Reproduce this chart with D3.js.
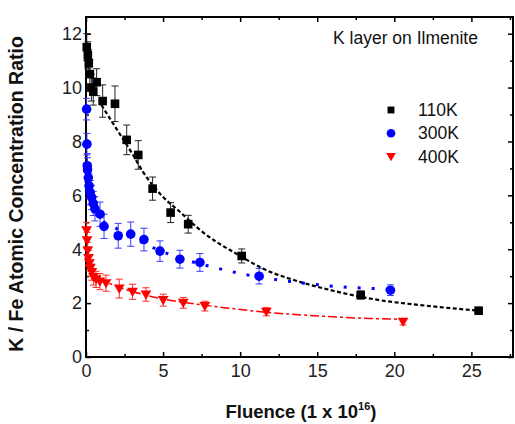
<!DOCTYPE html>
<html><head><meta charset="utf-8">
<script src="https://cdn.jsdelivr.net/npm/d3@7"></script>
<style>
body{margin:0;background:#fff;}
text{font-family:"Liberation Sans",Arial,sans-serif;}
</style></head>
<body><svg id="c" width="515" height="424"></svg>
<script>
// ---- data ----
const xTicks = [0,5,10,15,20,25];
const xMinorTicks = [2.5,7.5,12.5,17.5,22.5,27.5];
const yTicks = [0,2,4,6,8,10,12];
const yMinorTicks = [1,3,5,7,9,11];
const seriesNames = ["110K","300K","400K"];

const x110 = [0.05,0.12,0.18,0.25,0.35,0.47,0.69,1.08,1.88,2.64,3.39,4.32,5.49,6.63,10.10,17.82,25.47];
const y110 = [11.5,11.2,10.9,10.5,10.0,9.85,10.2,9.5,9.4,8.06,7.5,6.25,5.36,4.93,3.75,2.3,1.72];
const e110 = [0.5,0.5,0.5,0.55,0.5,0.5,0.5,0.6,0.66,0.55,0.53,0.43,0.37,0.33,0.26,0.15,0.05];

const x300 = [0.04,0.06,0.08,0.10,0.15,0.20,0.27,0.37,0.47,0.58,0.91,1.17,2.09,2.90,3.76,4.80,6.09,7.39,11.23,19.75];
const y300 = [9.2,7.9,7.1,6.95,6.65,6.35,6.1,5.92,5.7,5.5,5.3,4.85,4.5,4.56,4.36,3.93,3.63,3.51,3.0,2.48];
const e300 = [0.4,0.4,0.45,0.45,0.45,0.45,0.45,0.45,0.45,0.45,0.45,0.45,0.46,0.45,0.42,0.38,0.33,0.33,0.29,0.2];

const x400 = [0.04,0.07,0.11,0.16,0.22,0.28,0.37,0.48,0.65,0.9,1.3,2.16,3.02,3.89,5.01,6.31,7.71,11.7,20.57];
const y400 = [4.7,4.33,3.96,3.67,3.48,3.3,3.15,2.97,2.88,2.8,2.74,2.54,2.42,2.32,2.11,2.01,1.89,1.68,1.31];
const e400 = [0.3,0.3,0.3,0.3,0.3,0.3,0.3,0.3,0.3,0.3,0.3,0.35,0.28,0.25,0.22,0.2,0.18,0.15,0.12];

const fit110X = [1.0,2.0,3.0,3.71,4.9,6.09,7.39,8.47,9.55,11.71,13.87,16.03,18.62,22.3,25.5];
const fit110Y = [9.35,8.45,7.55,6.86,6.0,5.39,4.72,4.27,3.9,3.22,2.79,2.46,2.15,1.89,1.72];
const fit300X = [0.3,0.6,1.0,1.88,3.0,4.0,5.55,6.56,8.36,9.29,10.24,12.1,13.87,15.77,17.6,19.5];
const fit300Y = [5.95,5.45,5.1,4.8,4.45,4.15,3.78,3.59,3.32,3.19,3.07,2.89,2.76,2.64,2.57,2.52];
const fit400X = [0.2,0.5,1.0,2.0,3.0,4.0,5.0,6.3,7.7,8.7,11.7,15.2,18.4,20.6];
const fit400Y = [3.5,3.15,2.9,2.62,2.43,2.28,2.15,2.03,1.92,1.85,1.66,1.52,1.43,1.40];

// ---- layout ----
const L=86, T=17, R=513, B=357;
const svg = d3.select("#c");
const x = d3.scaleLinear().domain([0,27.7]).range([L,R]);
const y = d3.scaleLinear().domain([0,12.62]).range([B,T]);

const zip = (a,b,c)=>a.map((v,i)=>({x:v,y:b[i],e:c?c[i]:0}));
const series = [
  {name:seriesNames[0], color:"#000", ecolor:"#222", pts:zip(x110,y110,e110), fit:zip(fit110X,fit110Y), dash:"4,2.5", w:2.2, sym:"square"},
  {name:seriesNames[1], color:"#0000ff", ecolor:"#3a3aff", pts:zip(x300,y300,e300), fit:zip(fit300X,fit300Y), dash:"3,11", w:3, sym:"circle"},
  {name:seriesNames[2], color:"#ff0000", ecolor:"#ff2a2a", pts:zip(x400,y400,e400), fit:zip(fit400X,fit400Y), dash:"9,3,3,3", w:1.5, sym:"tri"}
];

// axes
function ax(gen, tr, vals, size, fmt, pad){
  const g = svg.append("g").attr("transform",tr)
    .call(gen.tickValues(vals).tickSize(size).tickSizeOuter(0).tickPadding(pad).tickFormat(fmt));
  g.select(".domain").remove();
  g.selectAll("line").attr("stroke","#000").attr("stroke-width",1.5);
  g.selectAll("text").attr("font-size",18).attr("fill","#222").attr("font-family","'Liberation Sans',Arial,sans-serif");
  return g;
}
const f = d3.format("d");
ax(d3.axisBottom(x), `translate(0,${B})`, xTicks, -5, f, 7);
ax(d3.axisBottom(x), `translate(0,${B})`, xMinorTicks.filter(v=>v<27.7), -3, ()=>"", 7);
ax(d3.axisTop(x), `translate(0,${T})`, xTicks, -5, ()=>"", 7);
ax(d3.axisTop(x), `translate(0,${T})`, xMinorTicks.filter(v=>v<27.7), -3, ()=>"", 7);
ax(d3.axisLeft(y), `translate(${L},0)`, yTicks, -5, f, 4);
ax(d3.axisLeft(y), `translate(${L},0)`, yMinorTicks, -3, ()=>"", 4);
ax(d3.axisRight(y), `translate(${R},0)`, yTicks, -5, ()=>"", 4);
ax(d3.axisRight(y), `translate(${R},0)`, yMinorTicks, -3, ()=>"", 4);

svg.append("rect").attr("x",L).attr("y",T).attr("width",R-L).attr("height",B-T)
  .attr("fill","none").attr("stroke","#000").attr("stroke-width",2);

// fits
const line = d3.line().x(d=>x(d.x)).y(d=>y(d.y)).curve(d3.curveMonotoneX);
series.forEach(s=>{
  svg.append("path").attr("d",line(s.fit)).attr("fill","none")
    .attr("stroke",s.color).attr("stroke-width",s.w).attr("stroke-dasharray",s.dash);
});

// symbols
function drawSym(g, sym, cx, cy, color, k){
  if(sym==="square"){
    const h=4.3*k;
    g.append("rect").attr("x",cx-h).attr("y",cy-h).attr("width",2*h).attr("height",2*h).attr("fill",color);
  } else if(sym==="circle"){
    g.append("circle").attr("cx",cx).attr("cy",cy).attr("r",4.8*k).attr("fill",color);
  } else {
    const a=5.4*k;
    g.append("path").attr("d",`M${cx-a},${cy-a*0.75}L${cx+a},${cy-a*0.75}L${cx},${cy+a*0.95}Z`).attr("fill",color);
  }
}

// error bars and points (draw in reverse so 110K on top)
[series[2],series[1],series[0]].forEach(s=>{
  const g = svg.append("g");
  s.pts.forEach(p=>{
    const cx=x(p.x), y1=y(p.y+p.e), y2=y(p.y-p.e);
    g.append("line").attr("x1",cx).attr("x2",cx).attr("y1",y1).attr("y2",y2).attr("stroke",s.ecolor).attr("stroke-width",1);
    [y1,y2].forEach(yy=>g.append("line").attr("x1",cx-3.5).attr("x2",cx+3.5).attr("y1",yy).attr("y2",yy).attr("stroke",s.ecolor).attr("stroke-width",1));
  });
  s.pts.forEach(p=>drawSym(g,s.sym,x(p.x),y(p.y),s.color,1));
});

// title
svg.append("text").attr("x",333).attr("y",44).attr("font-size",17.5).attr("fill","#111").text("K layer on Ilmenite");

// legend
series.forEach((s,i)=>{
  const cy = 110 + i*23.3;
  drawSym(svg, s.sym, 391, cy, s.color, s.sym==="square"?0.8:0.9);
  svg.append("text").attr("x",418).attr("y",cy+6).attr("font-size",17.5).attr("fill","#111").text(s.name);
});

// axis labels
const xl = svg.append("text").attr("x",301).attr("y",418).attr("text-anchor","middle")
  .attr("font-size",18.5).attr("font-weight","bold").attr("fill","#111");
xl.append("tspan").text("Fluence (1 x 10");
xl.append("tspan").attr("font-size",11).attr("dy",-8).text("16");
xl.append("tspan").attr("dy",8).text(")");

svg.append("text").attr("transform",`translate(23,${(T+B)/2+7}) rotate(-90)`).attr("text-anchor","middle")
  .attr("font-size",19.5).attr("font-weight","bold").attr("fill","#111").text("K / Fe Atomic Concentration Ratio");
</script></body></html>
